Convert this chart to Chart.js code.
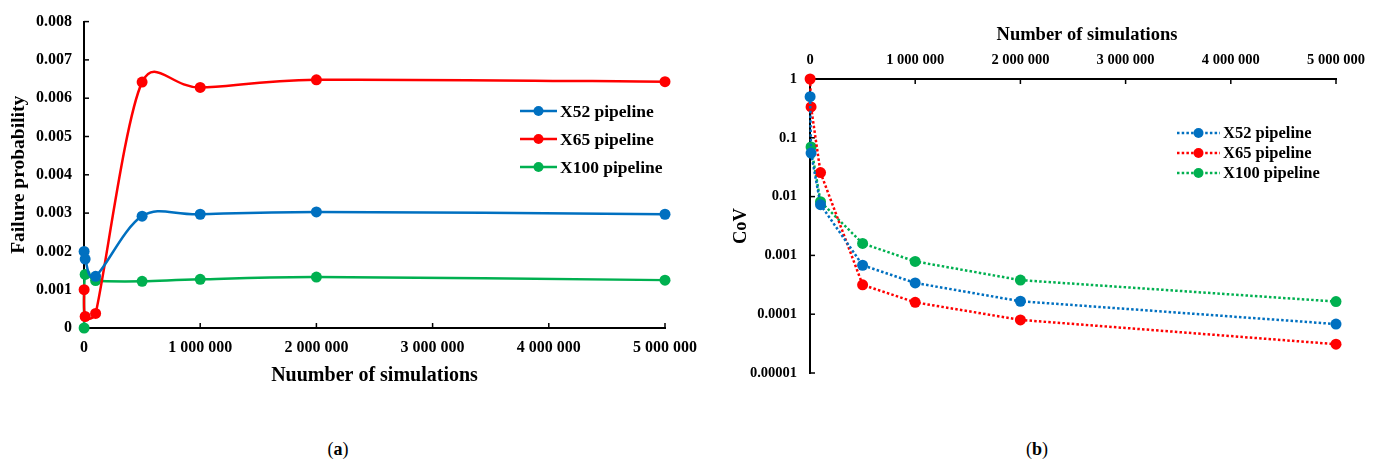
<!DOCTYPE html>
<html>
<head>
<meta charset="utf-8">
<script src="https://cdn.jsdelivr.net/npm/chart.js@4.4.0/dist/chart.umd.min.js"></script>
<style>
  body { margin: 0; width: 1377px; height: 462px; background: #fff; position: relative; overflow: hidden; }
  #boxA { position: absolute; left: 0; top: 0; width: 730px; height: 400px; }
  #boxB { position: absolute; left: 730px; top: 0; width: 647px; height: 400px; }
  .cap { position: absolute; top: 439px; font: 18px "Liberation Serif", serif; transform: translateX(-50%); }
</style>
</head>
<body>
<div id="boxA"><canvas id="chartA" width="730" height="400"></canvas></div>
<div id="boxB"><canvas id="chartB" width="647" height="400"></canvas></div>
<div class="cap" style="left:338px">(<b>a</b>)</div>
<div class="cap" style="left:1037px">(<b>b</b>)</div>
<script>
// Jumlah simulasi
const nSims = [1000, 10000, 100000, 500000, 1000000, 2000000, 5000000];

// Failure probability (grafik a)
const pfX52 = [0.002, 0.0018, 0.00135, 0.00292, 0.00297, 0.00303, 0.00297];
const pfX65 = [0.001, 0.0003, 0.00038, 0.00642, 0.00628, 0.00648, 0.00643];
const pfX100 = [0, 0.0014, 0.00124, 0.00122, 0.00127, 0.00133, 0.00125];

// CoV (grafik b), X100 tidak ada nilai di 1000 simulasi
const covX52 = [0.5, 0.055, 0.0073, 0.00068, 0.00034, 0.000166, 0.000068];
const covX65 = [1, 0.335, 0.0256, 0.000316, 0.000159, 0.00008, 0.0000309];
const covX100 = [null, 0.07, 0.0082, 0.0016, 0.00079, 0.00038, 0.000164];

const seriesLabels = ['X52 pipeline', 'X65 pipeline', 'X100 pipeline'];
const seriesColors = ['#0070C0', '#FF0000', '#00B050'];

const serif = '"Liberation Serif", "Times New Roman", serif';

function toPoints(ys) {
  return nSims.map((x, i) => ({ x, y: ys[i] })).filter(p => p.y !== null);
}

function fmtBig(v) {
  return String(v).replace(/\B(?=(\d{3})+(?!\d))/g, ' ');
}

// Smoothing ala Excel (Catmull-Rom 1/6, lengan dibatasi setengah segmen)
function capArm(dx, dy, segLen) {
  const len = Math.hypot(dx, dy);
  const lim = segLen * 0.5;
  if (len > lim && len > 0) return [dx * lim / len, dy * lim / len];
  return [dx, dy];
}

const excelSmooth = {
  id: 'excelSmooth',
  beforeDatasetDraw(chart, args) {
    const meta = args.meta;
    if (meta.dataset && typeof meta.dataset.updateControlPoints === 'function') {
      meta.dataset.updateControlPoints(chart.chartArea, meta.iScale.axis);
    }
    const pts = meta.data;
    pts.forEach((p, j) => {
      const prev = pts[j - 1] || p;
      const next = pts[j + 1] || p;
      const dx = (next.x - prev.x) / 6;
      const dy = (next.y - prev.y) / 6;
      const a = capArm(dx, dy, Math.hypot(p.x - prev.x, p.y - prev.y));
      const b = capArm(dx, dy, Math.hypot(next.x - p.x, next.y - p.y));
      p.cp1x = p.x - a[0]; p.cp1y = p.y - a[1];
      p.cp2x = p.x + b[0]; p.cp2y = p.y + b[1];
    });
  }
};

// Garis tick kecil ke dalam area chart
const innerTicks = {
  id: 'innerTicks',
  beforeDatasetsDraw(chart, args, opts) {
    const c = chart.ctx;
    c.save();
    c.strokeStyle = '#000';
    c.lineWidth = 1.5;
    Object.values(chart.scales).forEach(scale => {
      scale.ticks.forEach(t => {
        if (opts.onlyDecades && scale.axis === 'y') {
          const l = Math.log10(t.value);
          if (Math.abs(l - Math.round(l)) > 1e-9) return;
        }
        const p = scale.getPixelForValue(t.value);
        c.beginPath();
        if (scale.axis === 'x') {
          const y0 = scale.position === 'top' ? chart.chartArea.top : chart.chartArea.bottom;
          const dir = scale.position === 'top' ? 1 : -1;
          c.moveTo(p, y0);
          c.lineTo(p, y0 + dir * 5);
        } else {
          c.moveTo(chart.chartArea.left, p);
          c.lineTo(chart.chartArea.left + 5, p);
        }
        c.stroke();
      });
    });
    c.restore();
  }
};

// Legend di dalam area chart (+ judul bebas kalau ada)
const boxLegend = {
  id: 'boxLegend',
  afterDraw(chart, args, opts) {
    const c = chart.ctx;
    c.save();
    chart.data.datasets.forEach((ds, i) => {
      const y = opts.y + i * opts.gap;
      c.strokeStyle = ds.borderColor;
      c.lineWidth = ds.borderWidth;
      c.setLineDash(ds.borderDash || []);
      c.beginPath();
      c.moveTo(opts.x, y);
      c.lineTo(opts.x + opts.len, y);
      c.stroke();
      c.setLineDash([]);
      c.fillStyle = ds.borderColor;
      c.beginPath();
      c.arc(opts.x + opts.len / 2, y, opts.r, 0, Math.PI * 2);
      c.fill();
      c.fillStyle = '#000';
      c.font = 'bold ' + opts.size + 'px ' + serif;
      c.textBaseline = 'middle';
      c.textAlign = 'left';
      c.fillText(ds.label, opts.x + opts.len + 3, y + 1);
    });
    if (opts.title) {
      c.fillStyle = '#000';
      c.font = 'bold ' + opts.title.size + 'px ' + serif;
      c.textBaseline = 'middle';
      c.textAlign = 'center';
      c.fillText(opts.title.text, opts.title.x, opts.title.y);
    }
    c.restore();
  }
};

// Grafik (a)
new Chart(document.getElementById('chartA'), {
  type: 'line',
  data: {
    datasets: [pfX52, pfX65, pfX100].map((d, i) => ({
      label: seriesLabels[i],
      data: toPoints(d),
      borderColor: seriesColors[i],
      backgroundColor: seriesColors[i],
      borderWidth: 2.5,
      pointRadius: 5.5,
      pointBorderWidth: 0,
      tension: 0.4,
      clip: false,
      fill: false
    }))
  },
  options: {
    responsive: false,
    animation: false,
    layout: { padding: { top: 18, right: 65, bottom: 0, left: 0 } },
    plugins: {
      legend: { display: false },
      tooltip: { enabled: false },
      innerTicks: {},
      boxLegend: { x: 520, y: 111, gap: 28, len: 37, r: 5, size: 17.5 }
    },
    scales: {
      x: {
        type: 'linear',
        min: 0,
        max: 5000000,
        afterFit: s => { s.height = 72; },
        grid: { display: false, drawTicks: false },
        border: { display: true, color: '#000', width: 2 },
        ticks: {
          stepSize: 1000000,
          padding: 10,
          maxRotation: 0,
          autoSkip: false,
          color: '#000',
          font: { family: serif, size: 16, weight: 'bold' },
          callback: v => fmtBig(v)
        },
        title: {
          display: true,
          text: 'Nuumber of simulations',
          color: '#000',
          padding: { top: 0, bottom: 12 },
          font: { family: serif, size: 20, weight: 'bold' }
        }
      },
      y: {
        min: 0,
        max: 0.008,
        afterFit: s => { s.width = 84; },
        grid: { display: false, drawTicks: false },
        border: { display: true, color: '#000', width: 2 },
        ticks: {
          stepSize: 0.001,
          padding: 12,
          color: '#000',
          font: { family: serif, size: 16, weight: 'bold' },
          callback: v => v === 0 ? '0' : v.toFixed(3)
        },
        title: {
          display: true,
          text: 'Failure probability',
          color: '#000',
          padding: { top: 7, bottom: 0 },
          font: { family: serif, size: 19.5, weight: 'bold' }
        }
      }
    }
  },
  plugins: [excelSmooth, innerTicks, boxLegend]
});

// Grafik (b) - garis lurus putus-putus
new Chart(document.getElementById('chartB'), {
  type: 'line',
  data: {
    datasets: [covX52, covX65, covX100].map((d, i) => ({
      label: seriesLabels[i],
      data: toPoints(d),
      borderColor: seriesColors[i],
      backgroundColor: seriesColors[i],
      borderWidth: 2.5,
      borderDash: [2.5, 2.2],
      pointRadius: 5.5,
      pointBorderWidth: 0,
      tension: 0,
      clip: false,
      fill: false
    }))
  },
  options: {
    responsive: false,
    animation: false,
    layout: { padding: { top: 0, right: 41, bottom: 27, left: 0 } },
    plugins: {
      legend: { display: false },
      tooltip: { enabled: false },
      innerTicks: { onlyDecades: true },
      boxLegend: {
        x: 447, y: 133, gap: 20, len: 43, r: 5, size: 16.5,
        title: { text: 'Number of simulations', x: 357, y: 35, size: 18.5 }
      }
    },
    scales: {
      x: {
        type: 'linear',
        position: 'top',
        min: 0,
        max: 5000000,
        afterFit: s => { s.height = 79; },
        grid: { display: false, drawTicks: false },
        border: { display: true, color: '#000', width: 2 },
        ticks: {
          stepSize: 1000000,
          padding: 10,
          maxRotation: 0,
          autoSkip: false,
          color: '#000',
          font: { family: serif, size: 14.5, weight: 'bold' },
          callback: v => fmtBig(v)
        }
      },
      y: {
        type: 'logarithmic',
        min: 0.00001,
        max: 1,
        afterFit: s => { s.width = 80; },
        grid: { display: false, drawTicks: false },
        border: { display: true, color: '#000', width: 2 },
        ticks: {
          padding: 13,
          autoSkip: false,
          color: '#000',
          font: { family: serif, size: 14.5, weight: 'bold' },
          callback: v => {
            const l = Math.log10(v);
            if (Math.abs(l - Math.round(l)) > 1e-9) return '';
            return Number(v.toPrecision(1)).toFixed(Math.max(0, -Math.round(l)));
          }
        },
        title: {
          display: true,
          text: 'CoV',
          color: '#000',
          padding: { top: 0, bottom: 0 },
          font: { family: serif, size: 18.5, weight: 'bold' }
        }
      }
    }
  },
  plugins: [innerTicks, boxLegend]
});
</script>
</body>
</html>
